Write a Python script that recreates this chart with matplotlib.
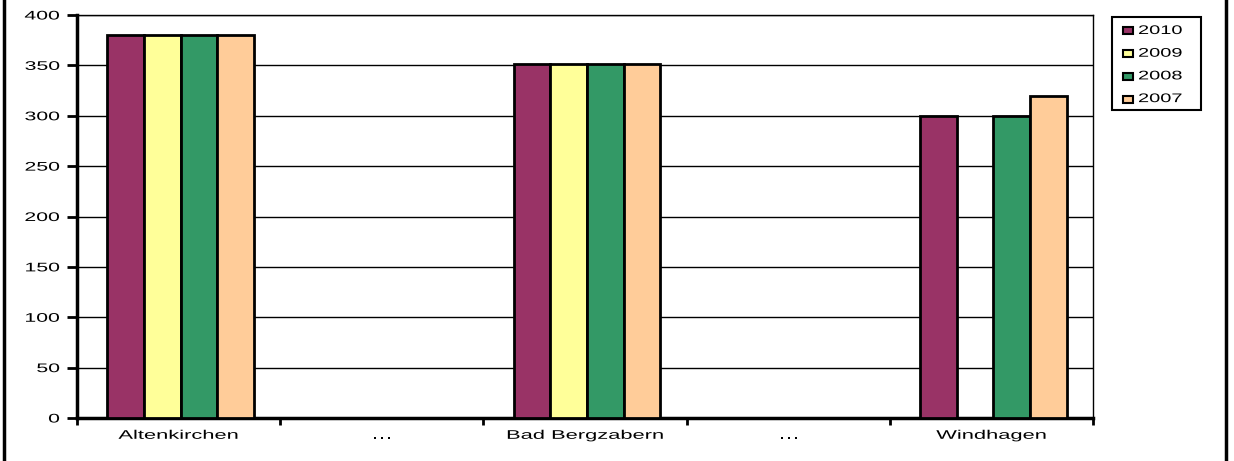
import numpy as np
import matplotlib.pyplot as plt
from matplotlib.lines import Line2D
from matplotlib.patches import Rectangle
from matplotlib.patheffects import AbstractPathEffect
from matplotlib.transforms import Affine2D

plt.rcParams['font.family'] = ['Liberation Sans', 'DejaVu Sans']

# data
places = ["Altenkirchen", "…", "Bad Bergzabern", "…", "Windhagen"]
years = ["2010", "2009", "2008", "2007"]
v2010 = [380, 0, 351, 0, 300]
v2009 = [380, 0, 351, 0, 0]
v2008 = [380, 0, 351, 0, 300]
v2007 = [380, 0, 351, 0, 320]
colors = ["#993366", "#FFFF99", "#339966", "#FFCC99"]

W, H = 1234, 461


# the original text is drawn wide, so stretch it sideways
class Stretch(AbstractPathEffect):
    def __init__(self, sx, align):
        super().__init__()
        self.sx = sx
        self.align = align

    def draw_path(self, renderer, gc, tpath, affine, rgbFace=None):
        if len(tpath.vertices) == 0:
            return
        pts = affine.transform(tpath.vertices)
        x0, x1 = pts[:, 0].min(), pts[:, 0].max()
        a = {"left": x0, "right": x1, "center": (x0 + x1) / 2}[self.align]
        t = affine + Affine2D().translate(-a, 0).scale(self.sx, 1).translate(a, 0)
        renderer.draw_path(gc, tpath, t, rgbFace)


def fx(px):
    return px / W


def fy(py):
    return 1 - py / H


fig = plt.figure(figsize=(W / 100, H / 100), dpi=100)
ax = fig.add_axes([fx(77), fy(418), (1093 - 77) / W, (418 - 15) / H])

x = np.arange(len(places))
w = 0.18
series = [v2010, v2009, v2008, v2007]
for i, vals in enumerate(series):
    vals = np.array(vals, dtype=float)
    mask = vals > 0
    ax.bar(x[mask] + 0.01 + (i - 1.5) * w, vals[mask], w, color=colors[i],
           edgecolor="black", linewidth=2, zorder=3)

ax.set_xlim(-0.5, len(places) - 0.5)
ax.set_ylim(0, 400)
ax.set_yticks(range(0, 401, 50))
ax.yaxis.grid(True, color="black", linewidth=1)
ax.set_axisbelow(True)

ax.set_xticks(x)
ax.set_xticklabels(places, fontsize=9)
ax.set_xticks(np.arange(-0.5, len(places), 1), minor=True)
ax.tick_params(axis="x", which="major", length=0, pad=8.5)
ax.tick_params(axis="x", which="minor", length=5, width=2, direction="out")
ax.tick_params(axis="y", length=7, width=2, direction="out", labelsize=9, pad=5.5)

for lbl in ax.get_xticklabels():
    lbl.set_path_effects([Stretch(1.75, "center")])
for lbl in ax.get_yticklabels():
    lbl.set_path_effects([Stretch(1.7, "right")])

for s in ["left", "bottom"]:
    ax.spines[s].set_linewidth(2.5)
for s in ["top", "right"]:
    ax.spines[s].set_linewidth(1)

# legend box
fig.add_artist(Rectangle((fx(1112), fy(110)), (1201 - 1112) / W, (110 - 17) / H,
                         transform=fig.transFigure, facecolor="white",
                         edgecolor="black", linewidth=1.5))
for i, (yr, c) in enumerate(zip(years, colors)):
    yc = 31 + i * 22.7
    fig.add_artist(Rectangle((fx(1123), fy(yc + 3.5)), 10 / W, 7 / H,
                             transform=fig.transFigure, facecolor=c,
                             edgecolor="black", linewidth=1.5))
    fig.text(fx(1138), fy(yc), yr, fontsize=9, va="center", ha="left",
             path_effects=[Stretch(1.6, "left")])

# outer chart frame
fig.add_artist(Line2D([fx(4), fx(4)], [0, 1], color="black", linewidth=2.5))
fig.add_artist(Line2D([fx(1226), fx(1226)], [0, 1], color="black", linewidth=2.5))

fig.savefig("out.png", dpi=100)
